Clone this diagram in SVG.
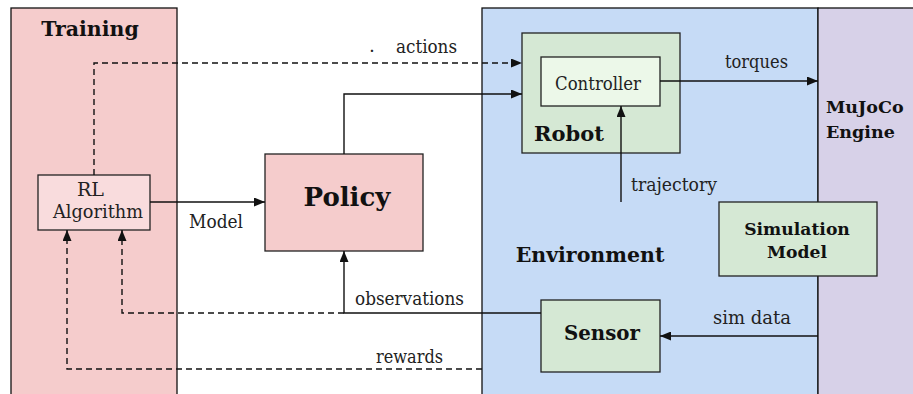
<svg xmlns="http://www.w3.org/2000/svg" width="913" height="394" viewBox="0 0 913 394">
<style>
.panel{stroke:#111;stroke-width:1.3}
.box{stroke:#222;stroke-width:1.3}
.t{font-family:"DejaVu Serif",serif;font-size:18.5px;fill:#222}
.b{font-family:"DejaVu Serif",serif;font-weight:bold;fill:#111}
.c{fill:none;stroke:#111;stroke-width:1.4}
.d{stroke-dasharray:6 4}
</style>
<defs>
<marker id="ah" viewBox="0 0 11 9" refX="11" refY="4.5" markerWidth="11" markerHeight="9" markerUnits="userSpaceOnUse" orient="auto">
<path d="M0,0 L11,4.5 L0,9 Z" fill="#111"/>
</marker>
</defs>
<rect width="913" height="394" fill="#fff"/>
<g id="training">
<rect class="panel" x="11" y="8" width="166" height="400" fill="#f5cccc"/>
<text class="b" x="90" y="35.5" font-size="20.5" text-anchor="middle">Training</text>
</g>
<g id="environment">
<rect class="panel" x="482" y="8" width="336" height="400" fill="#c6dbf6"/>
<text class="b" x="590" y="262" font-size="20.5" text-anchor="middle">Environment</text>
</g>
<g id="mujoco">
<rect class="panel" x="818" y="8" width="120" height="400" fill="#d7d1e8"/>
<text class="b" x="826" y="113" font-size="17.5">MuJoCo</text>
<text class="b" x="826" y="138" font-size="17.5">Engine</text>
</g>
<g id="rl-algorithm">
<rect class="box" x="38" y="175" width="112" height="55" fill="#f9dcdd"/>
<text class="t" x="77" y="196" textLength="27" lengthAdjust="spacingAndGlyphs">RL</text>
<text class="t" x="53" y="218" textLength="90" lengthAdjust="spacingAndGlyphs">Algorithm</text>
</g>
<g id="policy">
<rect class="box" x="265" y="154" width="158" height="97" fill="#f5cccc"/>
<text class="b" x="347" y="206" font-size="26" text-anchor="middle">Policy</text>
</g>
<g id="robot">
<rect class="box" x="522" y="33" width="158" height="120" fill="#d5e8d4"/>
<text class="b" x="569" y="141" font-size="21" text-anchor="middle">Robot</text>
</g>
<g id="controller">
<rect class="box" x="541" y="57" width="119" height="49" fill="#ecf8e9"/>
<text class="t" x="555" y="90" textLength="86" lengthAdjust="spacingAndGlyphs">Controller</text>
</g>
<g id="simulation-model">
<rect class="box" x="719" y="202" width="158" height="74" fill="#d5e8d4"/>
<text class="b" x="797" y="235" font-size="17.2" text-anchor="middle">Simulation</text>
<text class="b" x="797" y="258" font-size="17.2" text-anchor="middle">Model</text>
</g>
<g id="sensor">
<rect class="box" x="541" y="300" width="119" height="72" fill="#d5e8d4"/>
<text class="b" x="602" y="340" font-size="19.8" text-anchor="middle">Sensor</text>
</g>
<g id="connectors">
<path class="c d" d="M94,175 V63 H522" marker-end="url(#ah)"/>
<path class="c" d="M344,154 V94 H522" marker-end="url(#ah)"/>
<path class="c" d="M150,202 H265" marker-end="url(#ah)"/>
<path class="c" d="M660,81 H818" marker-end="url(#ah)"/>
<path class="c" d="M621,202 V106" marker-end="url(#ah)"/>
<path class="c" d="M818,336 H660" marker-end="url(#ah)"/>
<path class="c" d="M541,313 H344 V251" marker-end="url(#ah)"/>
<path class="c d" d="M344,313 H122 V230" marker-end="url(#ah)"/>
<path class="c d" d="M482,369 H67 V230" marker-end="url(#ah)"/>
<text class="t" x="372" y="52" font-size="8" text-anchor="middle">.</text>
<text class="t" x="396" y="53" textLength="61" lengthAdjust="spacingAndGlyphs">actions</text>
<text class="t" x="725" y="68" textLength="63" lengthAdjust="spacingAndGlyphs">torques</text>
<text class="t" x="189" y="228" textLength="54" lengthAdjust="spacingAndGlyphs">Model</text>
<text class="t" x="631" y="191" textLength="86" lengthAdjust="spacingAndGlyphs">trajectory</text>
<text class="t" x="355" y="305" textLength="109" lengthAdjust="spacingAndGlyphs">observations</text>
<text class="t" x="376" y="363" textLength="67" lengthAdjust="spacingAndGlyphs">rewards</text>
<text class="t" x="713" y="324" textLength="78" lengthAdjust="spacingAndGlyphs">sim data</text>
</g>
</svg>
